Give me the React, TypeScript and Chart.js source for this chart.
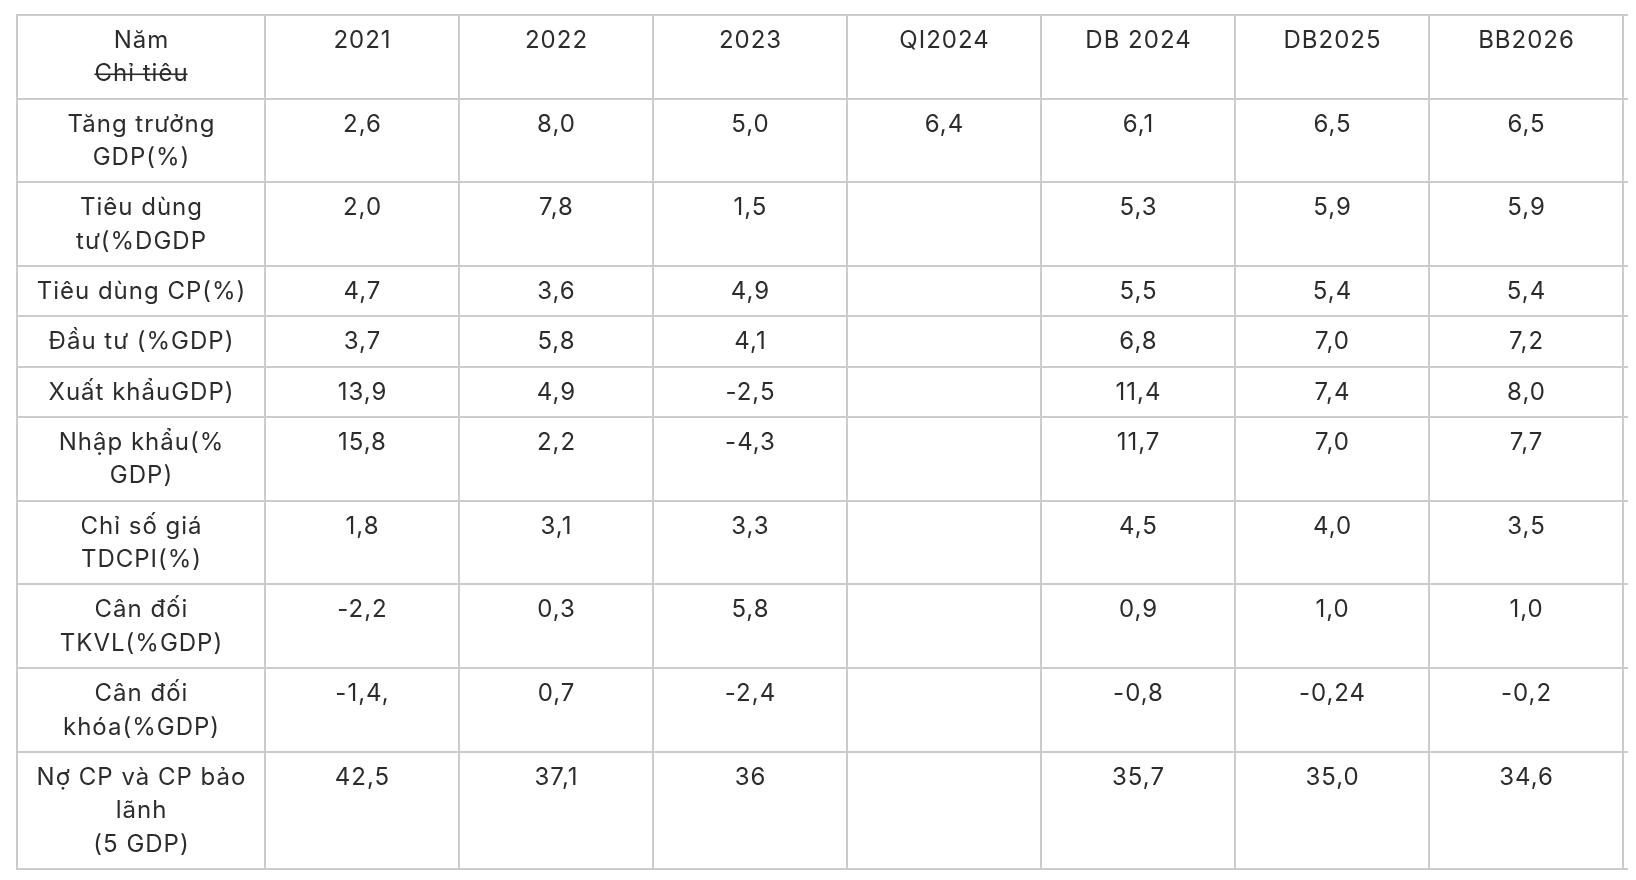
import React, { useEffect, useRef } from "react";
import { Chart, registerables } from "chart.js";

Chart.register(...registerables);

// ---- data ----
const CORNER_TOP = "Năm";
const CORNER_STRUCK = "Chỉ tiêu";
const COLUMNS = ["2021", "2022", "2023", "QI2024", "DB 2024", "DB2025", "BB2026"];
const ROW_LABELS = [
  "Tăng trưởng\nGDP(%)",
  "Tiêu dùng\ntư(%DGDP",
  "Tiêu dùng CP(%)",
  "Đầu tư (%GDP)",
  "Xuất khẩuGDP)",
  "Nhập khẩu(%\nGDP)",
  "Chỉ số giá\nTDCPI(%)",
  "Cân đối\nTKVL(%GDP)",
  "Cân đối\nkhóa(%GDP)",
  "Nợ CP và CP bảo\nlãnh\n(5 GDP)",
];
const V2021 = ["2,6", "2,0", "4,7", "3,7", "13,9", "15,8", "1,8", "-2,2", "-1,4,", "42,5"];
const V2022 = ["8,0", "7,8", "3,6", "5,8", "4,9", "2,2", "3,1", "0,3", "0,7", "37,1"];
const V2023 = ["5,0", "1,5", "4,9", "4,1", "-2,5", "-4,3", "3,3", "5,8", "-2,4", "36"];
const VQI2024 = ["6,4", "", "", "", "", "", "", "", "", ""];
const VDB2024 = ["6,1", "5,3", "5,5", "6,8", "11,4", "11,7", "4,5", "0,9", "-0,8", "35,7"];
const VDB2025 = ["6,5", "5,9", "5,4", "7,0", "7,4", "7,0", "4,0", "1,0", "-0,24", "35,0"];
const VBB2026 = ["6,5", "5,9", "5,4", "7,2", "8,0", "7,7", "3,5", "1,0", "-0,2", "34,6"];

const VALUES = [V2021, V2022, V2023, VQI2024, VDB2024, VDB2025, VBB2026];

// ---- layout (in scale units) ----
const LABEL_COL_W = 248 / 194; // label column width relative to data column
const ROW_PAD = 0.5; // vertical padding per row in line units
const FONT = '24px "Inter", "Noto Sans", sans-serif';
const LETTER_SPACING = 1;
const TEXT_COLOR = "#2c2c2c";
const GRID_COLOR = "#cccccc";

function buildRows() {
  const rows: { label: string[]; values: string[]; header?: boolean }[] = [];
  rows.push({ label: [CORNER_TOP, CORNER_STRUCK], values: COLUMNS.slice(), header: true });
  ROW_LABELS.forEach((l, i) => {
    rows.push({ label: l.split("\n"), values: VALUES.map((col) => col[i]) });
  });
  let acc = 0;
  const bounds = [0];
  rows.forEach((r) => {
    acc += r.label.length + ROW_PAD;
    bounds.push(acc);
  });
  return { rows, bounds, total: acc };
}

const tablePlugin = {
  id: "tablePlugin",
  afterDraw(chart: any) {
    const { ctx, chartArea, scales } = chart;
    const xs = scales.x;
    const ys = scales.y;
    const { rows, bounds } = buildRows();

    ctx.save();
    // grid
    ctx.fillStyle = GRID_COLOR;
    const top = Math.round(ys.getPixelForValue(0));
    const bottom = Math.round(ys.getPixelForValue(bounds[bounds.length - 1]));
    const left = Math.round(xs.getPixelForValue(-LABEL_COL_W));
    const right = chartArea.right;
    bounds.forEach((b) => {
      const y = Math.round(ys.getPixelForValue(b));
      ctx.fillRect(left - 1, y - 1, right - left + 1, 2);
    });
    const colBounds = [-LABEL_COL_W];
    for (let i = 0; i <= COLUMNS.length; i++) colBounds.push(i);
    colBounds.forEach((c) => {
      const x = Math.round(xs.getPixelForValue(c));
      ctx.fillRect(x - 1, top - 1, 2, bottom - top + 2);
    });

    // text
    ctx.font = FONT;
    try {
      (ctx as any).letterSpacing = LETTER_SPACING + "px";
    } catch (e) {}
    ctx.fillStyle = TEXT_COLOR;
    ctx.textAlign = "center";
    ctx.textBaseline = "alphabetic";
    const half = LETTER_SPACING / 2;
    const baseOff = 0.25 + 0.735;
    rows.forEach((r, ri) => {
      const yTop = bounds[ri];
      const cx0 = xs.getPixelForValue(-LABEL_COL_W / 2) + half;
      r.label.forEach((line, li) => {
        const y = ys.getPixelForValue(yTop + baseOff + li);
        ctx.fillText(line, cx0, y);
        if (r.header && li === 1) {
          const w = ctx.measureText(line).width - LETTER_SPACING;
          ctx.fillRect(cx0 - half - w / 2, y - 8, w, 1.6);
        }
      });
      r.values.forEach((v, ci) => {
        if (!v) return;
        const cx = xs.getPixelForValue(ci + 0.5) + half;
        const y = ys.getPixelForValue(yTop + baseOff);
        ctx.fillText(v, cx, y);
      });
    });
    ctx.restore();
  },
};

export default function App() {
  const ref = useRef<HTMLCanvasElement | null>(null);
  useEffect(() => {
    if (!ref.current) return;
    const { total } = buildRows();
    const chart = new Chart(ref.current, {
      type: "scatter",
      data: { datasets: [{ data: [] }] },
      options: {
        animation: false,
        responsive: false,
        devicePixelRatio: 1,
        layout: { padding: { left: 9, top: 7, right: 0, bottom: 3 } },
        plugins: { legend: { display: false }, tooltip: { enabled: false } },
        scales: {
          x: { type: "linear", display: false, min: -LABEL_COL_W, max: (1628 - 9) / 194 - LABEL_COL_W },
          y: { type: "linear", display: false, min: 0, max: total, reverse: true },
        },
      },
      plugins: [tablePlugin],
    });
    return () => chart.destroy();
  }, []);
  return (
    <div style={{ width: 1628, height: 864 }}>
      <canvas ref={ref} width={1628} height={864} style={{ display: "block" }} />
    </div>
  );
}
